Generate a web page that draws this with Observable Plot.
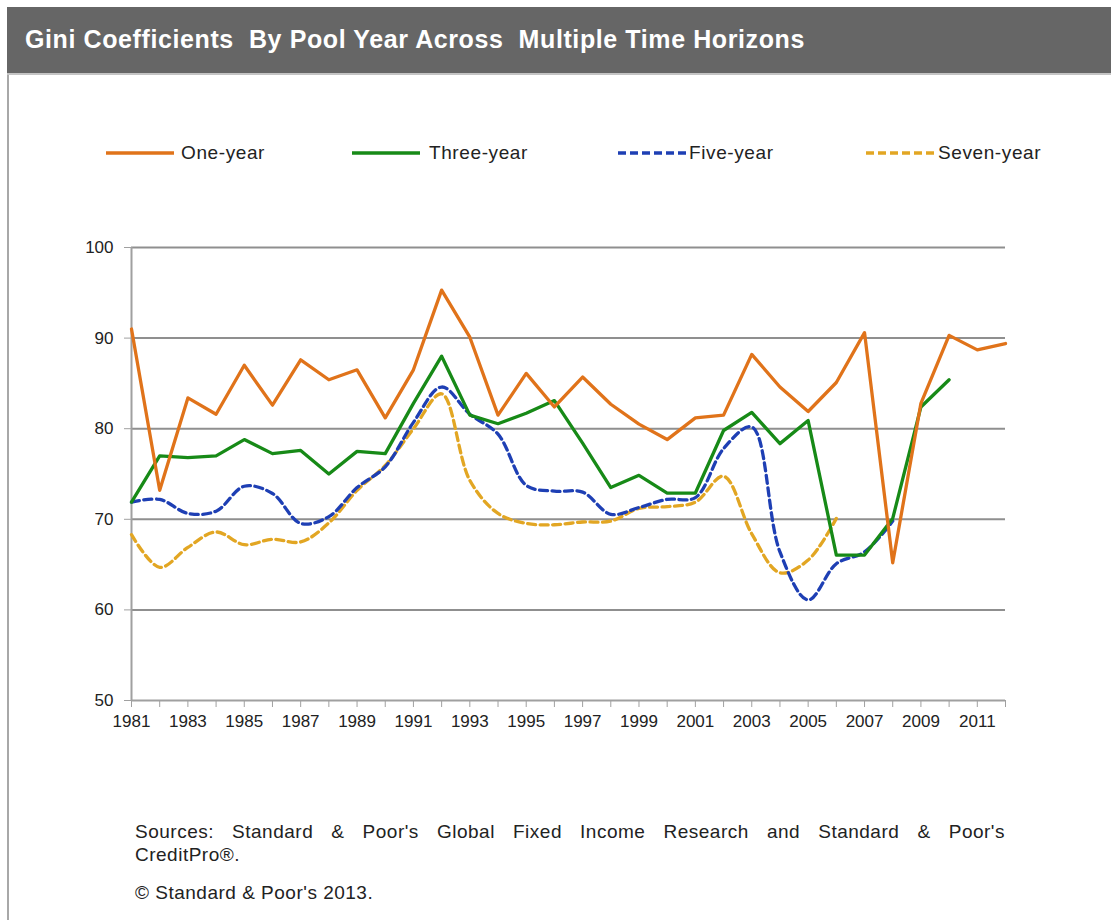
<!DOCTYPE html>
<html>
<head>
<meta charset="utf-8">
<script src="https://cdn.jsdelivr.net/npm/d3@7"></script>
<script src="https://cdn.jsdelivr.net/npm/@observablehq/plot@0.6"></script>
<style>
  html, body { margin: 0; padding: 0; background: #fff; }
  body { width: 1111px; height: 920px; position: relative; overflow: hidden; font-family: "Liberation Sans", Arial, sans-serif; }
  #titlebar { position: absolute; left: 7px; top: 7px; width: 1104px; height: 66px; background: #666666; border-bottom: 2px solid #c4c4c4; }
  #titlebar span { position: absolute; left: 18px; top: 18px; color: #fff; font-weight: bold; font-size: 25px; letter-spacing: 0.6px; white-space: pre; }
  #leftborder { position: absolute; left: 7px; top: 75px; width: 2px; height: 850px; background: #a8a8a8; }
  .leg { position: absolute; top: 142px; font-size: 19px; color: #222; letter-spacing: 0.6px; white-space: nowrap; }
  .legline { position: absolute; top: 148px; }
  #chart { position: absolute; left: 0; top: 200px; }
  .cap { position: absolute; left: 135px; width: 870px; font-size: 19px; color: #222; letter-spacing: 0.5px; white-space: nowrap; }
  #cap1 { top: 821px; text-align: justify; text-align-last: justify; white-space: normal; }
  #cap2 { top: 844px; }
  #copy { top: 882px; }
</style>
</head>
<body>
<div id="titlebar"><span>Gini Coefficients  By Pool Year Across  Multiple Time Horizons</span></div>
<div id="leftborder"></div>
<div id="legend"></div>
<div id="chart"></div>
<div class="cap" id="cap1">Sources: Standard &amp; Poor's Global Fixed Income Research and Standard &amp; Poor's</div>
<div class="cap" id="cap2">CreditPro®.</div>
<div class="cap" id="copy">© Standard &amp; Poor's 2013.</div>
<script>
// ---- data ----
const years = [1981,1982,1983,1984,1985,1986,1987,1988,1989,1990,1991,1992,1993,1994,1995,1996,1997,1998,1999,2000,2001,2002,2003,2004,2005,2006,2007,2008,2009,2010,2011,2012];
const labelYears = [1981,1983,1985,1987,1989,1991,1993,1995,1997,1999,2001,2003,2005,2007,2009,2011];
const yTicks = [50,60,70,80,90,100];
const seriesNames = ["One-year","Three-year","Five-year","Seven-year"];

const oneYear = [91.0,73.2,83.4,81.6,87.0,82.6,87.6,85.4,86.5,81.2,86.5,95.3,90.1,81.5,86.1,82.4,85.7,82.7,80.5,78.8,81.2,81.5,88.2,84.6,81.9,85.1,90.6,65.2,82.8,90.3,88.7,89.4];
const threeYear = [71.9,77.0,76.8,77.0,78.8,77.25,77.6,75.0,77.5,77.25,82.8,88.0,81.5,80.55,81.7,83.1,78.4,73.5,74.85,72.9,72.9,79.8,81.8,78.35,80.9,66.05,66.05,70.1,82.4,85.4];
const fiveYear = [71.9,72.2,70.65,70.9,73.65,72.85,69.55,70.3,73.5,75.8,80.7,84.6,81.6,79.4,73.75,73.1,73.0,70.55,71.3,72.2,72.4,77.8,80.2,66.4,61.1,65.1,66.4,69.8];
const sevenYear = [68.3,64.7,66.9,68.6,67.2,67.8,67.5,69.6,73.2,75.95,80.0,83.85,74.3,70.65,69.55,69.4,69.7,69.8,71.2,71.4,71.9,74.75,68.4,64.1,65.5,70.1];

// ---- styles ----
const colors = {"One-year":"#E0731A","Three-year":"#178A17","Five-year":"#1E3FB4","Seven-year":"#E2A623"};
const dashes = {"One-year":null,"Three-year":null,"Five-year":"8,4.5","Seven-year":"8,4.5"};
const curves = {"One-year":"linear","Three-year":"linear","Five-year":"catmull-rom","Seven-year":"catmull-rom"};

const valueLists = [oneYear, threeYear, fiveYear, sevenYear];
const tables = seriesNames.map((name, i) => valueLists[i].map((v, j) => ({series: name, year: years[j], value: v})));

// ---- legend (HTML) ----
const legendPos = [
  {line: 106, text: 181},
  {line: 352, text: 429},
  {line: 618, text: 689},
  {line: 866, text: 938}
];
const legend = document.getElementById("legend");
seriesNames.forEach((name, i) => {
  const p = legendPos[i];
  const w = (dashes[name] ? 70 : 68);
  const svgNS = "http://www.w3.org/2000/svg";
  const s = document.createElementNS(svgNS, "svg");
  s.setAttribute("width", w); s.setAttribute("height", 10);
  s.setAttribute("class", "legline");
  s.style.left = p.line + "px";
  const l = document.createElementNS(svgNS, "line");
  l.setAttribute("x1", 0); l.setAttribute("x2", w); l.setAttribute("y1", 5); l.setAttribute("y2", 5);
  l.setAttribute("stroke", colors[name]); l.setAttribute("stroke-width", 3.5);
  if (dashes[name]) l.setAttribute("stroke-dasharray", "8,4");
  s.appendChild(l);
  legend.appendChild(s);
  const t = document.createElement("div");
  t.className = "leg"; t.style.left = p.text + "px"; t.textContent = name;
  legend.appendChild(t);
});

// ---- chart ----
const grid = "#8f8f8f";
const marks = [
  Plot.ruleY(yTicks.filter(d => d > 50), {stroke: grid, strokeWidth: 2}),
  Plot.ruleX([1981], {stroke: "#a0a0a0", strokeWidth: 2}),
  Plot.ruleY([50], {stroke: "#a0a0a0", strokeWidth: 2}),
  Plot.axisY({ticks: yTicks, tickSize: 7, tickPadding: 11, stroke: "#a0a0a0", fill: "#222", label: null, fontSize: 17}),
  Plot.axisX({ticks: years, tickSize: 7, tickPadding: 7, stroke: "#a0a0a0", fill: "#222", label: null, fontSize: 17,
              tickFormat: d => labelYears.includes(d) ? String(d) : ""})
];
tables.slice().reverse().forEach(t => {
  const name = t[0].series;
  marks.push(Plot.line(t, {x: "year", y: "value", stroke: colors[name], strokeWidth: 3.3,
    strokeDasharray: dashes[name] || undefined, curve: curves[name]}));
});

const chart = Plot.plot({
  width: 1111, height: 560,
  marginLeft: 131, marginRight: 106, marginTop: 47, marginBottom: 60,
  x: {type: "linear", domain: [1981, 2012]},
  y: {domain: [50, 100]},
  style: {fontFamily: "'Liberation Sans', Arial, sans-serif", fontSize: "17px", color: "#222", background: "transparent"},
  marks
});
document.getElementById("chart").appendChild(chart);
</script>
</body>
</html>
